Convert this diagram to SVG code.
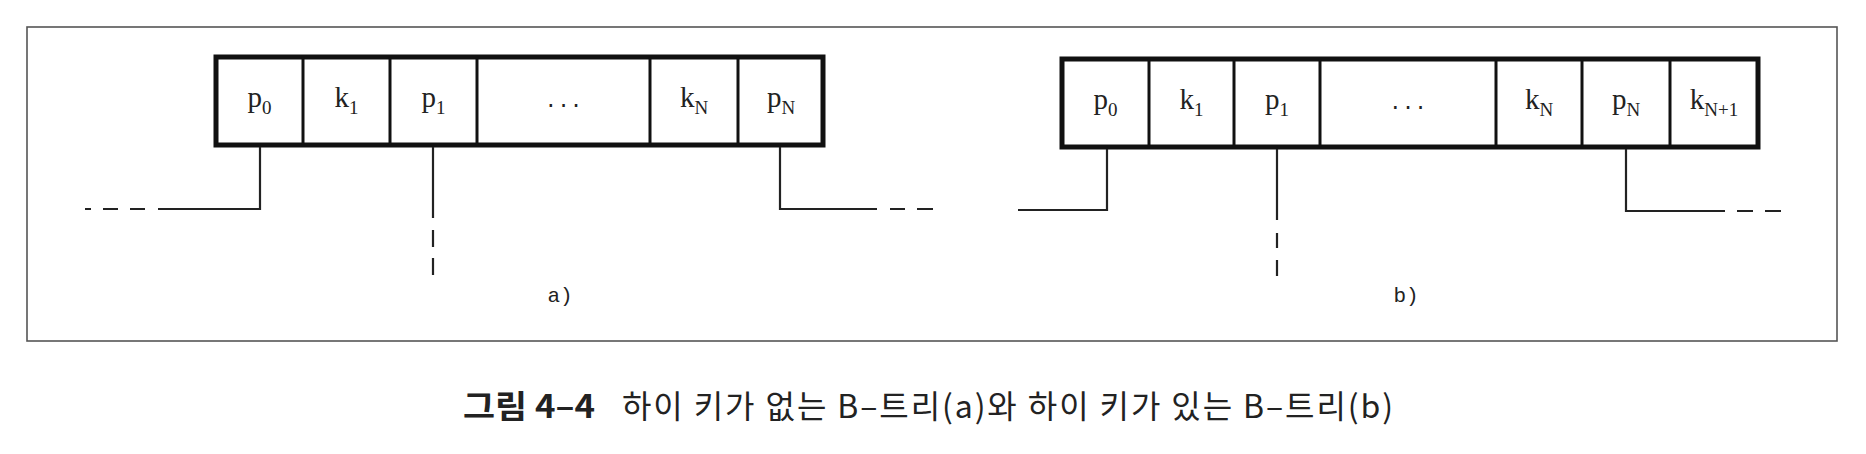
<svg xmlns="http://www.w3.org/2000/svg" width="1866" height="454" viewBox="0 0 1866 454">
<style>
.frame{fill:none;stroke:#555;stroke-width:1.6}
.box{fill:#fff;stroke:#111;stroke-width:5}
.div{stroke:#111;stroke-width:3}
.cell{font-family:"Liberation Serif","DejaVu Serif",serif;font-size:29px;fill:#222;text-anchor:middle}
.sub{font-size:19px}
.lbl{font-family:"Liberation Mono","DejaVu Sans Mono",monospace;font-size:21px;fill:#222;text-anchor:middle}
.con{fill:none;stroke:#222;stroke-width:2.2}
.cap{font-family:"Noto Sans CJK KR","Noto Sans",sans-serif;font-size:32px;fill:#222}
</style>
<rect width="1866" height="454" fill="#fff"/>
<rect class="frame" x="27" y="27" width="1810" height="314"/>

<g id="nodeA">
  <rect class="box" x="216" y="57" width="607" height="88"/>
  <line class="div" x1="303" y1="57" x2="303" y2="145"/>
  <line class="div" x1="390" y1="57" x2="390" y2="145"/>
  <line class="div" x1="477" y1="57" x2="477" y2="145"/>
  <line class="div" x1="650" y1="57" x2="650" y2="145"/>
  <line class="div" x1="738" y1="57" x2="738" y2="145"/>
  <text class="cell" x="259.5" y="107">p<tspan class="sub" dy="7">0</tspan></text>
  <text class="cell" x="346.5" y="107">k<tspan class="sub" dy="7">1</tspan></text>
  <text class="cell" x="433.5" y="107">p<tspan class="sub" dy="7">1</tspan></text>
  <text class="lbl" x="563.5" y="107">...</text>
  <text class="cell" x="694" y="107">k<tspan class="sub" dy="7">N</tspan></text>
  <text class="cell" x="781" y="107">p<tspan class="sub" dy="7">N</tspan></text>
  <text class="lbl" x="560" y="302">a)</text>
</g>

<g id="nodeB">
  <rect class="box" x="1062" y="59" width="696" height="88"/>
  <line class="div" x1="1149" y1="59" x2="1149" y2="147"/>
  <line class="div" x1="1234" y1="59" x2="1234" y2="147"/>
  <line class="div" x1="1320" y1="59" x2="1320" y2="147"/>
  <line class="div" x1="1496" y1="59" x2="1496" y2="147"/>
  <line class="div" x1="1582" y1="59" x2="1582" y2="147"/>
  <line class="div" x1="1670" y1="59" x2="1670" y2="147"/>
  <text class="cell" x="1105.5" y="109">p<tspan class="sub" dy="7">0</tspan></text>
  <text class="cell" x="1191.5" y="109">k<tspan class="sub" dy="7">1</tspan></text>
  <text class="cell" x="1277" y="109">p<tspan class="sub" dy="7">1</tspan></text>
  <text class="lbl" x="1408" y="109">...</text>
  <text class="cell" x="1539" y="109">k<tspan class="sub" dy="7">N</tspan></text>
  <text class="cell" x="1626" y="109">p<tspan class="sub" dy="7">N</tspan></text>
  <text class="cell" x="1714" y="109">k<tspan class="sub" dy="7">N+1</tspan></text>
  <text class="lbl" x="1406" y="302">b)</text>
</g>

<g id="connectors">
  <path class="con" d="M260,147 V209 H158"/>
  <path class="con" d="M145,209 H130 M118,209 H103 M91,209 H85"/>
  <path class="con" d="M433,147 V218 M433,230 V247 M433,258 V275"/>
  <path class="con" d="M780,147 V209 H877 M890,209 H905 M917,209 H933"/>
  <path class="con" d="M1107,149 V210 H1018"/>
  <path class="con" d="M1277,149 V220 M1277,233 V248 M1277,260 V276"/>
  <path class="con" d="M1626,149 V211 H1725 M1737,211 H1753 M1765,211 H1781"/>
</g>

<g id="caption">
  <text class="cap" x="463" y="418" font-weight="bold" textLength="132" lengthAdjust="spacingAndGlyphs">그림 4–4</text>
  <text class="cap" x="622" y="418" textLength="771" lengthAdjust="spacing">하이 키가 없는 B–트리(a)와 하이 키가 있는 B–트리(b)</text>
</g>
</svg>
